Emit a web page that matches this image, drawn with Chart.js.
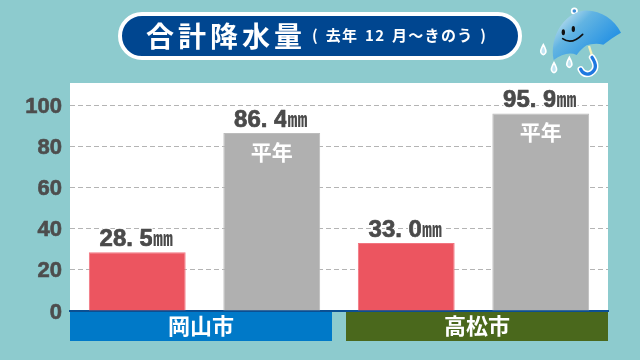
<!DOCTYPE html>
<html lang="ja">
<head>
<meta charset="utf-8">
<title>合計降水量</title>
<script src="https://cdn.jsdelivr.net/npm/chart.js@4"></script>
<style>
html, body { margin: 0; padding: 0; }
body { width: 640px; height: 360px; overflow: hidden; background: #8dcbce; position: relative; font-family: "Noto Sans CJK JP", sans-serif; }
#chart { position: absolute; left: 0; top: 0; }
#pill { position: absolute; left: 118px; top: 12px; width: 396px; height: 40px; border: 4px solid #fff; border-radius: 24px; background: #004690; color: #fff; white-space: nowrap; }
#pill .main { position: absolute; left: 24px; top: -3px; font-size: 28px; font-weight: 700; letter-spacing: 4px; line-height: 44px; }
#pill .sub { position: absolute; left: 190px; top: -3px; font-size: 15px; font-weight: 700; letter-spacing: 1.3px; word-spacing: 2px; line-height: 44px; }
#umbrella { position: absolute; left: 520px; top: 0; }
</style>
</head>
<body>
<canvas id="chart" width="640" height="360"></canvas>
<div id="pill"><span class="main">合計降水量</span><span class="sub">( 去年 12 月～きのう )</span></div>
<svg id="umbrella" width="120" height="90" viewBox="0 0 360 270">
    <defs>
        <linearGradient id="dome" x1="0.1" y1="0.1" x2="0.9" y2="0.7">
            <stop offset="0" stop-color="#c4e2ee"/>
            <stop offset="0.35" stop-color="#62b4e2"/>
            <stop offset="1" stop-color="#1f8ee4"/>
        </linearGradient>
    </defs>
    <circle cx="163" cy="33" r="8" fill="#3f8fd8" stroke="#fff" stroke-width="5"/>
    <path d="M207 138 L217 170" stroke="#f4efb8" stroke-width="7"/>
    <path d="M216 172 Q238 205 212 220 Q192 228 182 208" fill="none" stroke="#fff" stroke-width="19" stroke-linecap="round"/>
    <path d="M216 172 Q238 205 212 220 Q192 228 182 208" fill="none" stroke="#1f78e0" stroke-width="10" stroke-linecap="round"/>
    <path d="M101 180 C88 110 130 42 190 32 C240 28 282 58 303 98 C285 108 265 122 250 134 C230 128 212 132 200 136 C190 142 180 152 170 165 C150 156 125 162 101 180 Z" fill="url(#dome)"/>
    <ellipse cx="130" cy="97" rx="5" ry="9" fill="#111"/>
    <ellipse cx="160" cy="87" rx="5" ry="9" fill="#111"/>
    <path d="M128 116 Q155 136 188 103" fill="none" stroke="#111" stroke-width="5" stroke-linecap="round"/>
    <path d="M70 134 Q60 152 63 158 Q70 170 77 158 Q80 152 70 134 Z" fill="#bfe4f2" stroke="#fff" stroke-width="5"/>
    <path d="M102 188 Q92 206 95 212 Q102 224 109 212 Q112 206 102 188 Z" fill="#bfe4f2" stroke="#fff" stroke-width="5"/>
    <path d="M148 172 Q138 190 141 196 Q148 208 155 196 Q158 190 148 172 Z" fill="#bfe4f2" stroke="#fff" stroke-width="5"/>
</svg>
<script>
const cities = ['岡山市', '高松市'];
const rainfall = [28.5, 33.0];
const normal = [86.4, 95.9];
const yTicks = [0, 20, 40, 60, 80, 100];
const normalLabel = '平年';
const unit = '㎜';

const CITY_COLORS = ['#0079c8', '#4a681c'];
const RED = '#ec5560';
const GREY = '#b0b0b0';

// one bar per value: city rainfall, then its normal
var barLabels = [];
var barValues = [];
var barColors = [];
var barBorders = [];
for (let i = 0; i < cities.length; i++) {
    barLabels.push(cities[i], cities[i] + normalLabel);
    barValues.push(rainfall[i], normal[i]);
    barColors.push(RED, GREY);
    barBorders.push('#f27580', '#bcbcbc');
}

const FONT = '"Noto Sans CJK JP", sans-serif';
const NUM_FONT = '700 24px "Liberation Sans", sans-serif';
const UNIT_FONT = '700 20px ' + FONT;

//White plot background
const plotBack = {
    id: 'plotBack',
    beforeDraw(chart) {
        const a = chart.chartArea;
        chart.ctx.fillStyle = '#fff';
        chart.ctx.fillRect(a.left, a.top, a.right - a.left, a.bottom - a.top);
    }
};

//City bands under the axis
const cityBands = {
    id: 'cityBands',
    afterDraw(chart) {
        const ctx = chart.ctx;
        const x = chart.scales.x;
        const a = chart.chartArea;
        const step = (a.right - a.left) / barLabels.length;
        ctx.save();
        for (let i = 0; i < cities.length; i++) {
            const left = x.getPixelForValue(i * 2) - step / 2 + (i ? 7 : 0);
            const right = x.getPixelForValue(i * 2 + 1) + step / 2 - (i ? 0 : 7);
            ctx.fillStyle = CITY_COLORS[i];
            ctx.fillRect(left, a.bottom + 1, right - left, 29);
            ctx.fillStyle = '#fff';
            ctx.font = '700 22px ' + FONT;
            ctx.textAlign = 'center';
            ctx.textBaseline = 'middle';
            ctx.fillText(cities[i], (left + right) / 2, a.bottom + 15);
        }
        ctx.restore();
    }
};

//Value labels above the bars and 平年 inside the grey ones
const barText = {
    id: 'barText',
    afterDatasetsDraw(chart) {
        const ctx = chart.ctx;
        const bars = chart.getDatasetMeta(0).data;
        ctx.save();
        bars.forEach(function (bar, i) {
            const num = barValues[i].toFixed(1).replace('.', '. ');
            ctx.textBaseline = 'alphabetic';
            ctx.textAlign = 'left';
            ctx.font = NUM_FONT;
            const numWidth = ctx.measureText(num).width;
            ctx.font = UNIT_FONT;
            const unitWidth = ctx.measureText(unit).width;
            const left = bar.x - (numWidth + unitWidth) / 2 - 1;
            const base = bar.y - 6;
            ctx.lineJoin = 'round';
            ctx.fillStyle = '#4a4a4a';
            ctx.font = NUM_FONT;
            ctx.lineWidth = 3;
            ctx.strokeStyle = '#fff';
            ctx.strokeText(num, left, base);
            ctx.lineWidth = 0.7;
            ctx.strokeStyle = '#4a4a4a';
            ctx.strokeText(num, left, base);
            ctx.fillText(num, left, base);
            ctx.font = UNIT_FONT;
            ctx.lineWidth = 3;
            ctx.strokeStyle = '#fff';
            ctx.strokeText(unit, left + numWidth, base);
            ctx.fillText(unit, left + numWidth, base);
            if (i % 2 == 1) {
                ctx.fillStyle = '#fff';
                ctx.font = '700 21px ' + FONT;
                ctx.textAlign = 'center';
                ctx.textBaseline = 'middle';
                ctx.fillText(normalLabel, bar.x, bar.y + 19);
            }
        });
        ctx.restore();
    }
};

var myChart = new Chart(document.getElementById('chart'), {
    type: 'bar',
    plugins: [plotBack, cityBands, barText],
    data: {
        labels: barLabels,
        datasets: [{
            data: barValues,
            backgroundColor: barColors,
            borderColor: barBorders,
            borderWidth: 1,
            barPercentage: 0.72,
            categoryPercentage: 1
        }]
    },
    options: {
        responsive: false,
        animation: false,
        layout: { padding: { top: 83, right: 32, bottom: 49, left: 0 } },
        plugins: {
            legend: { display: false },
            title: { display: false },
            tooltip: { enabled: false }
        },
        scales: {
            x: {
                ticks: { display: false },
                grid: { display: false, drawTicks: false },
                border: { color: '#0b4f92', width: 2 }
            },
            y: {
                min: 0,
                max: 110.7,
                afterFit(scale) { scale.width = 70; },
                afterBuildTicks(scale) {
                    scale.ticks = yTicks.map(function (v) { return { value: v }; });
                },
                ticks: {
                    padding: 8,
                    labelOffset: 1.5,
                    color: '#4d4d4d',
                    textStrokeColor: '#4d4d4d',
                    textStrokeWidth: 0.6,
                    font: { family: '"Liberation Sans", sans-serif', size: 22, weight: 'bold' }
                },
                grid: { color: '#b4b4b4', lineWidth: 1, drawTicks: false },
                border: { display: false, dash: [5, 3] }
            }
        }
    }
});
</script>
</body>
</html>
